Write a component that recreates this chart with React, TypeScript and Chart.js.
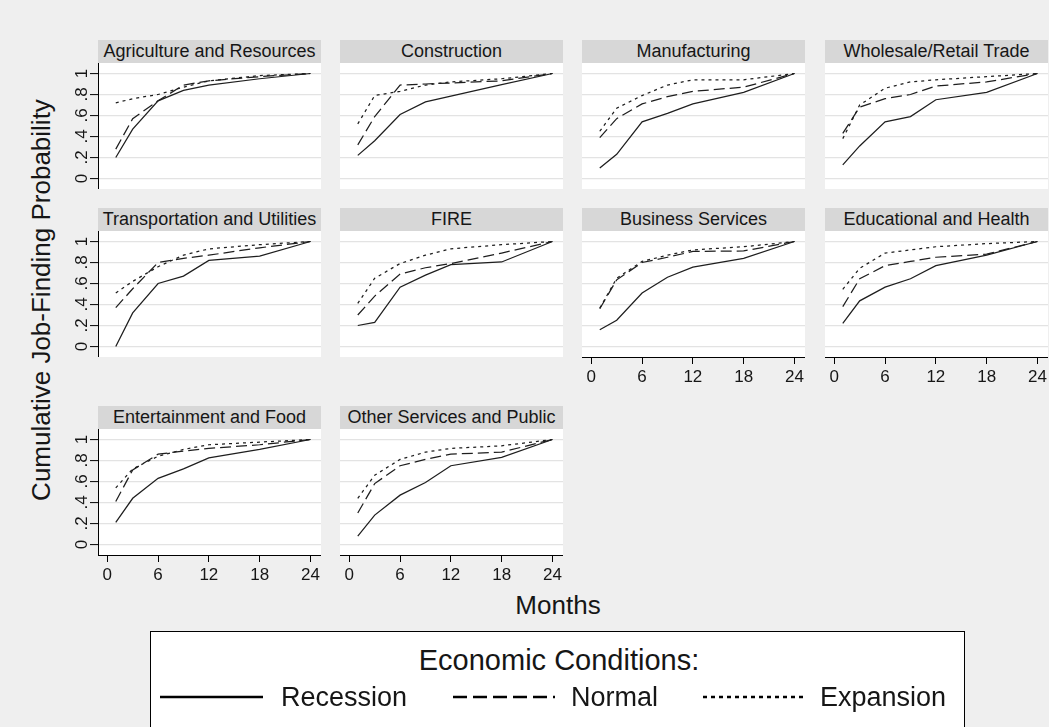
import React, { useEffect, useRef } from "react";
import { Chart, registerables } from "chart.js";

Chart.register(...registerables);

const FONT = "'Liberation Sans', Arial, Helvetica, sans-serif";
const TEXT = "#161616";
const LINE = "#1e1e1e";
const GRID = "#e3e3e3";
const BG = "#efefef";
const STRIP = "#d7d7d7";

// ---- data ----
const months = [1, 3, 6, 9, 12, 18, 24];
const xTickValues = [0, 6, 12, 18, 24];
const xTickLabels = ["0", "6", "12", "18", "24"];
const yTickValues = [0, 0.2, 0.4, 0.6, 0.8, 1];
const yTickLabels = ["0", ".2", ".4", ".6", ".8", "1"];
const seriesNames = ["Recession", "Normal", "Expansion"];
const industries = [
  "Agriculture and Resources",
  "Construction",
  "Manufacturing",
  "Wholesale/Retail Trade",
  "Transportation and Utilities",
  "FIRE",
  "Business Services",
  "Educational and Health",
  "Entertainment and Food",
  "Other Services and Public",
];
const recession = [
  [0.2, 0.47, 0.74, 0.84, 0.89, 0.95, 1],
  [0.22, 0.36, 0.61, 0.73, 0.785, 0.895, 1],
  [0.1, 0.23, 0.54, 0.62, 0.71, 0.82, 1],
  [0.13, 0.31, 0.54, 0.59, 0.75, 0.82, 1],
  [0.0, 0.32, 0.6, 0.67, 0.82, 0.86, 1],
  [0.2, 0.23, 0.565, 0.68, 0.78, 0.805, 1],
  [0.16, 0.25, 0.51, 0.66, 0.755, 0.84, 1],
  [0.22, 0.435, 0.565, 0.645, 0.77, 0.87, 1],
  [0.21, 0.44, 0.63, 0.72, 0.825, 0.905, 1],
  [0.08, 0.28, 0.47, 0.59, 0.75, 0.83, 1],
];
const normal = [
  [0.28, 0.57, 0.74, 0.89, 0.93, 0.97, 1],
  [0.32, 0.59, 0.89, 0.9, 0.91, 0.93, 1],
  [0.39, 0.57, 0.71, 0.78, 0.83, 0.87, 1],
  [0.43, 0.68, 0.76, 0.8, 0.88, 0.92, 1],
  [0.37, 0.55, 0.8, 0.84, 0.87, 0.94, 1],
  [0.3, 0.48, 0.69, 0.75, 0.79, 0.89, 1],
  [0.36, 0.635, 0.8, 0.85, 0.905, 0.91, 1],
  [0.38, 0.645, 0.77, 0.81, 0.85, 0.88, 1],
  [0.41, 0.71, 0.86, 0.89, 0.915, 0.95, 1],
  [0.3, 0.58, 0.75, 0.81, 0.86, 0.88, 1],
];
const expansion = [
  [0.72, 0.76, 0.8, 0.87, 0.93, 0.98, 1],
  [0.52, 0.79, 0.83, 0.89, 0.92, 0.95, 1],
  [0.45, 0.67, 0.79, 0.89, 0.94, 0.94, 1],
  [0.38, 0.7, 0.86, 0.92, 0.94, 0.97, 1],
  [0.51, 0.62, 0.76, 0.87, 0.93, 0.97, 1],
  [0.41, 0.65, 0.79, 0.87, 0.93, 0.97, 1],
  [0.365, 0.65, 0.81, 0.87, 0.92, 0.95, 1],
  [0.545, 0.745, 0.89, 0.92, 0.95, 0.98, 1],
  [0.54, 0.72, 0.84, 0.905, 0.95, 0.975, 1],
  [0.44, 0.66, 0.81, 0.88, 0.915, 0.94, 1],
];

// ---- layout ----
const colLefts = [98, 340, 582, 825];
const rowPlotTops = [63, 231, 429];
const PLOT_W = 223;
const PLOT_H = 126;
const STRIP_H = 23;
const Y_AXIS_W = 40;
const X_AXIS_H = 34;
const X_MIN = -1.1;
const X_MAX = 25.25;
const Y_MIN = -0.1;
const Y_MAX = 1.1;

const plotBg = {
  id: "plotBg",
  beforeDraw(chart: any) {
    const { ctx, chartArea } = chart;
    ctx.save();
    ctx.fillStyle = "#ffffff";
    ctx.fillRect(chartArea.left, chartArea.top, chartArea.right - chartArea.left, chartArea.bottom - chartArea.top);
    ctx.restore();
  },
};

function Panel({ index }: { index: number }) {
  const ref = useRef<HTMLCanvasElement | null>(null);
  const row = Math.floor(index / 4);
  const col = index % 4;
  const showY = col === 0;
  const showX = row === 2 || (row === 1 && col >= 2);
  const yW = showY ? Y_AXIS_W : 0;
  const xH = showX ? X_AXIS_H : 0;
  const cw = PLOT_W + yW;
  const ch = PLOT_H + xH;

  useEffect(() => {
    const toPts = (vals: number[]) => months.map((m, i) => ({ x: m, y: vals[i] }));
    const dashes = [[], [11, 5], [3, 4]];
    const sets = [recession, normal, expansion];
    const chart = new Chart(ref.current as HTMLCanvasElement, {
      type: "line",
      data: {
        datasets: sets.map((s, k) => ({
          label: seriesNames[k],
          data: toPts(s[index]),
          borderColor: LINE,
          borderWidth: 1.25,
          borderDash: dashes[k],
          pointRadius: 0,
          tension: 0,
          fill: false,
        })),
      },
      options: {
        animation: false,
        responsive: false,
        maintainAspectRatio: false,
        layout: { padding: 0 },
        plugins: { legend: { display: false }, tooltip: { enabled: false }, title: { display: false } },
        scales: {
          x: {
            type: "linear",
            min: X_MIN,
            max: X_MAX,
            display: showX,
            afterBuildTicks: (s: any) => {
              s.ticks = xTickValues.map((v) => ({ value: v }));
            },
            afterFit: (s: any) => {
              s.height = xH;
              s.paddingLeft = 0;
              s.paddingRight = 0;
            },
            grid: { drawOnChartArea: false, drawTicks: true, tickLength: 7, tickColor: "#000", tickWidth: 1 },
            border: { display: true, color: "#000", width: 1 },
            ticks: {
              autoSkip: false,
              maxRotation: 0,
              minRotation: 0,
              padding: 3,
              color: TEXT,
              font: { size: 17, family: FONT },
              callback: (_v: any, i: number) => xTickLabels[i],
            },
          },
          y: {
            type: "linear",
            min: Y_MIN,
            max: Y_MAX,
            afterBuildTicks: (s: any) => {
              s.ticks = yTickValues.map((v) => ({ value: v }));
            },
            afterFit: (s: any) => {
              s.width = yW;
              s.paddingTop = 0;
              s.paddingBottom = 0;
            },
            grid: { color: GRID, lineWidth: 1.2, drawTicks: showY, tickLength: 8, tickColor: "#000", tickWidth: 1 },
            border: { display: showY, color: "#000", width: 1 },
            ticks: {
              display: showY,
              autoSkip: false,
              minRotation: 90,
              maxRotation: 90,
              crossAlign: "center",
              padding: 1,
              color: TEXT,
              font: { size: 17, family: FONT },
              callback: (_v: any, i: number) => yTickLabels[i],
            },
          },
        },
      } as any,
      plugins: [plotBg],
    });
    return () => chart.destroy();
  }, [index]);

  return (
    <>
      <div
        style={{
          position: "absolute",
          left: colLefts[col],
          top: rowPlotTops[row] - STRIP_H,
          width: PLOT_W,
          height: STRIP_H,
          background: STRIP,
          color: TEXT,
          font: `18px ${FONT}`,
          lineHeight: `${STRIP_H}px`,
          textAlign: "center",
          whiteSpace: "nowrap",
          overflow: "hidden",
        }}
      >
        {industries[index]}
      </div>
      <canvas
        ref={ref}
        width={cw}
        height={ch}
        style={{ position: "absolute", left: colLefts[col] - yW, top: rowPlotTops[row], width: cw, height: ch }}
      />
    </>
  );
}

function LegendLine({ x1, x2, y, dash }: { x1: number; x2: number; y: number; dash?: string }) {
  return (
    <line x1={x1} x2={x2} y1={y} y2={y} stroke="#000" strokeWidth={2.6} strokeDasharray={dash} />
  );
}

export default function App() {
  const big = `26px ${FONT}`;
  return (
    <div
      style={{
        position: "fixed",
        left: 0,
        top: 0,
        width: 1049,
        height: 727,
        background: BG,
        overflow: "hidden",
        fontFamily: FONT,
        color: TEXT,
      }}
    >
      {industries.map((_, i) => (
        <Panel key={i} index={i} />
      ))}
      <div
        style={{
          position: "absolute",
          left: 41,
          top: 300,
          transform: "translate(-50%, -50%) rotate(-90deg)",
          font: big,
          whiteSpace: "nowrap",
        }}
      >
        Cumulative Job-Finding Probability
      </div>
      <div
        style={{
          position: "absolute",
          left: 558,
          top: 605,
          transform: "translate(-50%, -50%)",
          font: big,
          whiteSpace: "nowrap",
        }}
      >
        Months
      </div>
      <div
        style={{
          position: "absolute",
          left: 150,
          top: 631,
          width: 815,
          height: 100,
          background: "#ffffff",
          border: "1px solid #000",
          boxSizing: "border-box",
        }}
      />
      <div
        style={{
          position: "absolute",
          left: 559,
          top: 660,
          transform: "translate(-50%, -50%)",
          font: `29px ${FONT}`,
          whiteSpace: "nowrap",
        }}
      >
        Economic Conditions:
      </div>
      <svg style={{ position: "absolute", left: 0, top: 0 }} width={1049} height={727}>
        <LegendLine x1={160} x2={263} y={697} />
        <LegendLine x1={453} x2={555} y={697} dash="14 6" />
        <LegendLine x1={703} x2={803} y={697} dash="4 4" />
      </svg>
      {[
        { label: seriesNames[0], left: 281 },
        { label: seriesNames[1], left: 571 },
        { label: seriesNames[2], left: 820 },
      ].map((it) => (
        <div
          key={it.label}
          style={{
            position: "absolute",
            left: it.left,
            top: 697,
            transform: "translateY(-50%)",
            font: `27px ${FONT}`,
            whiteSpace: "nowrap",
          }}
        >
          {it.label}
        </div>
      ))}
    </div>
  );
}
